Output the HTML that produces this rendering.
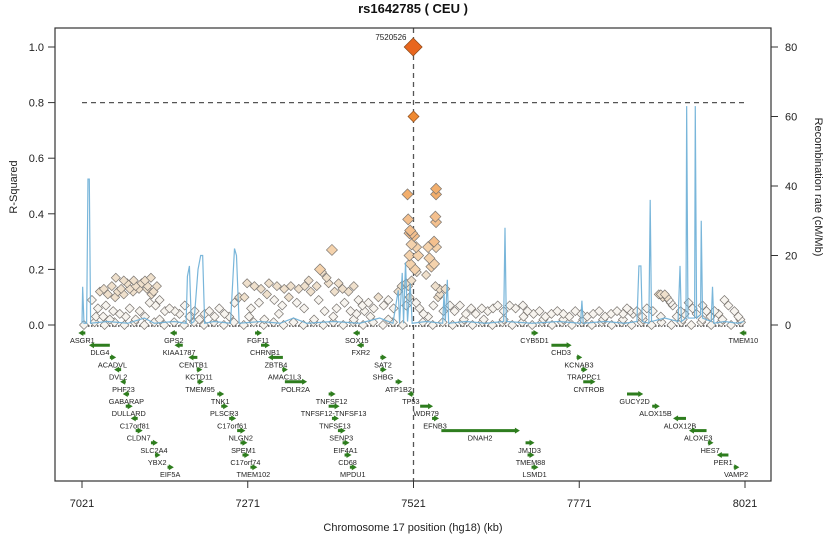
<!DOCTYPE html>
<html><head><meta charset="utf-8"><style>
html,body{margin:0;padding:0;background:#fff;}
svg{display:block;font-family:"Liberation Sans",sans-serif;}
</style></head><body>
<svg id="chart" width="827" height="536" viewBox="0 0 827 536" xmlns="http://www.w3.org/2000/svg">
<defs><clipPath id="plotclip"><rect x="55" y="28" width="716" height="453"/></clipPath></defs>
<text x="413" y="13" text-anchor="middle" font-size="13" font-weight="bold" fill="#111">rs1642785 ( CEU )</text>
<g id="plot" clip-path="url(#plotclip)"></g>
<rect x="55" y="28" width="716" height="453" fill="none" stroke="#333" stroke-width="1.2"/>
<g id="axes"></g>
<text transform="translate(17,187) rotate(-90)" text-anchor="middle" font-size="11" fill="#222">R-Squared</text>
<text transform="translate(815,187) rotate(90)" text-anchor="middle" font-size="11" fill="#222">Recombination rate (cM/Mb)</text>
<text x="413" y="531" text-anchor="middle" font-size="11" fill="#222">Chromosome 17 position (hg18) (kb)</text>
</svg>
<script>
const xTicks=[7021,7271,7521,7771,8021];
const yTicks=[0,0.2,0.4,0.6,0.8,1.0];
const y2Ticks=[0,20,40,60,80];
const recPos=[7021,7022,7024,7028,7030,7032,7034,7060,7090,7115,7130,7160,7178,7180,7183,7186,7190,7196,7200,7203,7206,7220,7245,7251,7254,7258,7290,7320,7340,7360,7400,7440,7470,7490,7498,7500,7504,7506,7509,7512,7516,7519,7540,7565,7567,7569,7572,7574,7600,7630,7657,7659,7661,7700,7740,7773,7775,7777,7810,7840,7858,7861,7864,7866,7876,7878,7880,7900,7920,7923,7925,7932,7933,7935,7945,7946,7948,7954,7955,7957,7970,7972,7974,7990,8010,8019];
const recRate=[0.5,11,0.5,0.5,42,42,0.5,1,0.5,2,0.5,1,0.5,14,17,0.5,1,16,20,20,0.5,1,0.5,22,20,0.5,1,0.5,2,0.5,1,0.5,2,0.5,10,0.5,15,0.5,18,1,12,0.5,1,0.5,9,1,13,0.5,1,0.5,1,28,1,0.5,1,0.5,7,0.5,1,0.5,1,17,17,1,0.5,36,1,2,1,17,1,2,63,2,2,63,2,3,30,2,1,11,0.5,1,0.5,1];
const snpPos=[7036,7042,7048,7054,7060,7066,7071,7075,7080,7084,7089,7093,7098,7102,7107,7111,7116,7120,7125,7129,7134,7138,7072,7084,7099,7119,7126,7045,7057,7068,7078,7093,7108,7123,7132,7053,7063,7087,7102,7116,7138,
7146,7153,7161,7168,7176,7183,7191,7198,7206,7213,7221,7228,7236,7243,7251,7258,7270,7281,7291,7303,7315,7326,7336,7348,7357,7363,7266,7276,7288,7300,7311,7323,7333,7345,7356,7366,7375,7380,7383,7390,7398,7393,7402,7408,7414,7423,7431,7438,7444,7378,7387,7405,7417,7426,7435,7447,7453,7461,7468,7476,7483,7491,7498,7503,7510,7273,7296,7318,7371,7400,7431,7456,7483,
7512,7513,7515,7516,7519,7518,7515,7516,7522,7525,7528,7523,7526,7518,7515,7525,7510,7530,7513,7555,7555,7554,7555,7552,7555,7543,7545,7548,7540,7552,7560,7561,7554,7558,7551,7569,7536,7543,7566,
7576,7583,7591,7600,7608,7615,7624,7633,7641,7648,7657,7666,7675,7686,7693,7702,7711,7720,7729,7738,7747,7756,7765,7774,7783,7792,7801,7810,7819,7828,7837,7843,7848,7852,7858,7866,7873,7882,7891,7894,7897,7900,7903,7906,7909,7912,7918,7924,7930,7936,7942,7948,7957,7963,7969,7975,7981,7990,7996,8005,8011,7597,7627,7657,7687,7717,7747,7777,7807,7837,7867,7894,7927,7957,7987,8014,
7024,7040,7055,7070,7085,7100,7115,7130,7145,7160,7175,7190,7205,7220,7235,7250,7265,7280,7295,7310,7325,7340,7355,7370,7385,7400,7415,7430,7445,7460,7475,7490,7505,7535,7550,7565,7580,7595,7610,7625,7640,7655,7670,7685,7700,7715,7730,7745,7760,7775,7790,7805,7820,7835,7850,7865,7880,7895,7910,7925,7940,7955,7970,7985,8000,8015,
7521,7520.5];
const snpR2=[.09,.03,.12,.13,.11,.14,.10,.12,.13,.11,.15,.13,.12,.14,.13,.15,.16,.14,.17,.12,.14,.09,.17,.16,.16,.13,.11,.06,.07,.05,.04,.06,.05,.08,.07,.03,.02,.03,.02,.03,.02,
.05,.06,.05,.04,.07,.03,.05,.02,.04,.05,.03,.06,.04,.03,.08,.10,.15,.14,.13,.15,.14,.13,.14,.13,.14,.16,.10,.06,.08,.11,.09,.07,.10,.08,.06,.12,.14,.20,.19,.17,.27,.15,.12,.15,.13,.12,.14,.09,.07,.09,.05,.06,.08,.05,.04,.05,.08,.06,.10,.07,.09,.06,.12,.14,.15,.03,.02,.04,.02,.03,.02,.03,.02,
.47,.38,.33,.34,.33,.29,.25,.22,.32,.28,.25,.20,.19,.16,.10,.08,.07,.06,.14,.49,.47,.39,.37,.30,.28,.28,.24,.21,.18,.22,.13,.11,.14,.10,.07,.13,.04,.03,.05,
.07,.05,.07,.04,.06,.04,.06,.05,.06,.07,.05,.07,.06,.07,.05,.04,.05,.03,.04,.05,.04,.03,.05,.04,.03,.04,.05,.03,.04,.05,.04,.06,.05,.04,.05,.03,.06,.05,.11,.11,.10,.11,.10,.09,.08,.07,.03,.05,.04,.08,.06,.04,.07,.05,.03,.05,.04,.09,.07,.05,.03,.02,.02,.02,.03,.02,.02,.02,.02,.02,.02,.03,.02,.02,.02,.02,
0,.01,0,.01,0,.01,0,.01,0,.01,0,.01,0,.01,0,.01,0,.01,0,.01,0,.01,0,.01,0,.01,0,.01,0,.01,0,.01,0,.01,0,.01,0,.01,0,.01,0,.01,0,.01,0,.01,0,.01,0,.01,0,.01,0,.01,0,.01,0,.01,0,.01,0,.01,0,.01,0,.01,
.75,1.0];
const geneNames=["ASGR1","GPS2","FGF11","SOX15","CYB5D1","TMEM10","DLG4","KIAA1787","CHRNB1","FXR2","CHD3","ACADVL","CENTB1","ZBTB4","SAT2","KCNAB3","DVL2","KCTD11","AMAC1L3","SHBG","TRAPPC1","PHF23","TMEM95","POLR2A","ATP1B2","CNTROB","GABARAP","TNK1","TNFSF12","TP53","GUCY2D","DULLARD","PLSCR3","TNFSF12-TNFSF13","WDR79","ALOX15B","C17orf81","C17orf61","TNFSF13","EFNB3","ALOX12B","CLDN7","NLGN2","SENP3","DNAH2","ALOXE3","SLC2A4","SPEM1","EIF4A1","JMJD3","HES7","YBX2","C17orf74","CD68","TMEM88","PER1","EIF5A","TMEM102","MPDU1","LSMD1","VAMP2"];
const geneStart=[7017,7155,7282,7431,7699,8014,7033,7162,7291,7437,7729,7063,7183,7303,7471,7767,7071,7194,7323,7471,7774,7080,7195,7327,7494,7777,7084,7225,7393,7513,7843,7087,7231,7393,7531,7881,7096,7243,7398,7549,7914,7102,7255,7407,7563,7938,7125,7260,7414,7690,7965,7131,7263,7417,7693,7980,7150,7275,7425,7699,8004];
const geneEnd=[7026,7164,7291,7440,7708,8023,7063,7173,7303,7446,7758,7071,7195,7324,7479,7774,7080,7201,7330,7479,7782,7087,7203,7359,7503,7794,7092,7234,7402,7521,7866,7096,7240,7408,7549,7891,7105,7252,7407,7558,7932,7111,7266,7417,7680,7963,7134,7269,7423,7702,7972,7138,7272,7426,7702,7996,7158,7284,7434,7708,8011];
const geneRow=[0,0,0,0,0,0,1,1,1,1,1,2,2,2,2,2,3,3,3,3,3,4,4,4,4,4,5,5,5,5,5,6,6,6,6,6,7,7,7,7,7,8,8,8,8,8,9,9,9,9,9,10,10,10,10,10,11,11,11,11,11];
const geneStrand=["-","-","+","-","+","-","-","-","+","-","+","+","-","-","+","+","-","+","+","+","+","-","+","+","+","+","-","+","+","-","+","+","+","+","+","+","-","+","+","+","-","+","+","+","+","-","+","+","+","+","+","+","+","+","+","-","+","+","+","+","+"];
const leadLabel="7520526";

const NS="http://www.w3.org/2000/svg";
const X=kb=>82+(kb-7021)*0.663;
const Y=r=>325-r*278;
const YR=r=>325-r*3.475;
const plot=document.getElementById('plot');
const axes=document.getElementById('axes');
function mk(tag,attrs,parent){const e=document.createElementNS(NS,tag);for(const k in attrs)e.setAttribute(k,attrs[k]);parent.appendChild(e);return e;}

let l=mk('line',{x1:X(7021),x2:X(8021),y1:Y(0.8),y2:Y(0.8),stroke:'#555','stroke-width':1.3,'stroke-dasharray':'5,4'},plot);


l=mk('line',{x1:X(7521),x2:X(7521),y1:28,y2:481,stroke:'#555','stroke-width':1.3,'stroke-dasharray':'5,4'},plot);


l=mk('line',{x1:X(7021),x2:X(8021),y1:326,y2:326,stroke:'#444','stroke-width':1.5,'stroke-dasharray':'1.5,1.5'},plot);



function col(r){if(r>=0.9)return '#e8661e';if(r>=0.6)return '#ef8a33';if(r>=0.4)return '#f2ae6c';if(r>=0.3)return '#f4c08e';if(r>=0.2)return '#f4d2ac';if(r>=0.1)return '#efe0cc';return '#f7f4ef';}
const idx=snpPos.map((p,i)=>i).sort((a,b)=>snpR2[a]-snpR2[b]);
const snpG=mk('g',{},plot);


idx.forEach(i=>{
  const r=snpR2[i];const cx=X(snpPos[i]);const cy=Y(r);
  const s=r>=0.9?9:(r>=0.6?5.5:(r>=0.2?5.5:4.5));
  const p=mk('polygon',{points:`${cx},${cy-s} ${cx+s},${cy} ${cx},${cy+s} ${cx-s},${cy}`,fill:col(r),stroke:r>=0.6?'#8a4a1a':'#7a7570','stroke-width':0.7},snpG);
  
  
});

const rec=mk('polyline',{points:recPos.map((p,i)=>X(p)+','+YR(recRate[i])).join(' '),fill:'none',stroke:'#6aaed6','stroke-width':1.2,'stroke-opacity':0.9},plot);



const lt=mk('text',{x:X(7521)-7,y:40,'text-anchor':'end','font-size':8,fill:'#222'},plot);
lt.textContent=leadLabel;



const gG=mk('g',{},plot);


geneNames.forEach((n,i)=>{
  const y=333+12.2*geneRow[i];
  const x1=X(geneStart[i]),x2=X(geneEnd[i]);
  const g=mk('g',{},gG);
  
  
  const plus=geneStrand[i]==='+';
  mk('line',{x1:plus?x1:x1+3,x2:plus?x2-3:x2,y1:y,y2:y,stroke:'#2e7d1e','stroke-width':3},g);
  if(plus) mk('polygon',{points:`${x2-4},${y-3} ${x2+1},${y} ${x2-4},${y+3}`,fill:'#2e7d1e'},g);
  else mk('polygon',{points:`${x1+4},${y-3} ${x1-1},${y} ${x1+4},${y+3}`,fill:'#2e7d1e'},g);
  const t=mk('text',{x:(x1+x2)/2,y:y+10,'text-anchor':'middle','font-size':7.3,fill:'#222'},g);
  t.textContent=n;
});

yTicks.forEach(v=>{
  const y=Y(v);
  const t=mk('line',{x1:48,x2:55,y1:y,y2:y,stroke:'#333'},axes);
  
  
  const tx=mk('text',{x:44,y:y+4,'text-anchor':'end','font-size':11,fill:'#222'},axes);
  tx.textContent=v.toFixed(1);
  
  
});
y2Ticks.forEach(v=>{
  const y=YR(v);
  const t=mk('line',{x1:771,x2:778,y1:y,y2:y,stroke:'#333'},axes);
  
  
  const tx=mk('text',{x:785,y:y+4,'text-anchor':'start','font-size':11,fill:'#222'},axes);
  tx.textContent=String(v);
  
  
});
xTicks.forEach(v=>{
  const x=X(v);
  const t=mk('line',{x1:x,x2:x,y1:481,y2:488,stroke:'#333'},axes);
  
  
  const tx=mk('text',{x:x,y:507,'text-anchor':'middle','font-size':11,fill:'#222'},axes);
  tx.textContent=String(v);
  
  
});
</script>
</body></html>
